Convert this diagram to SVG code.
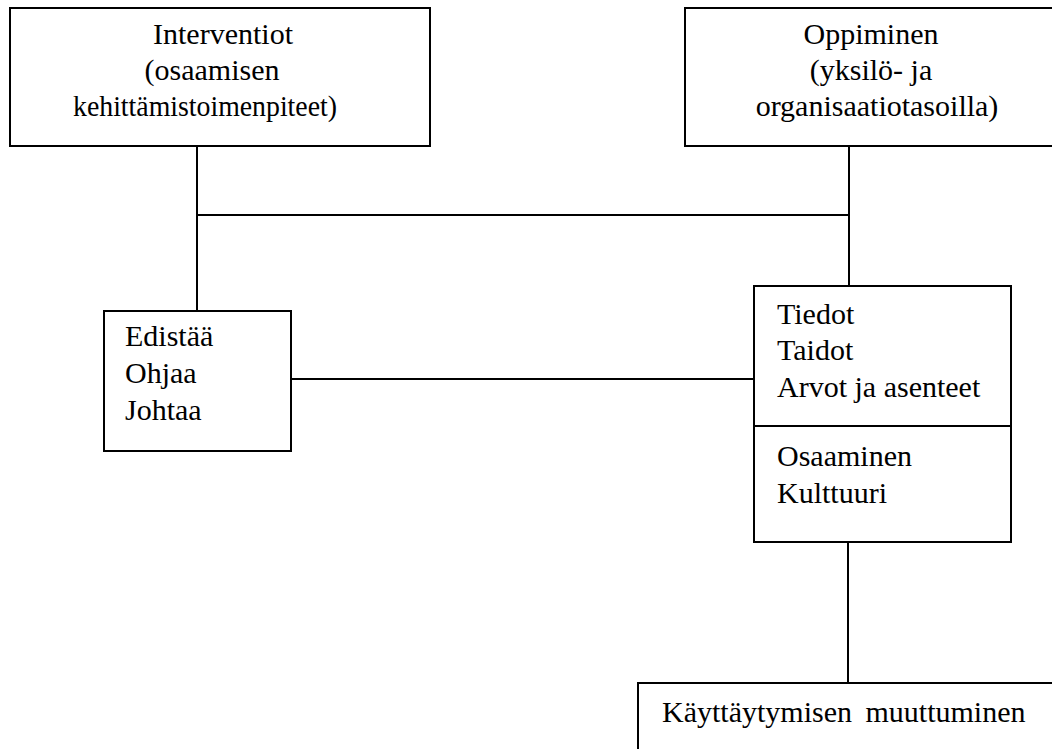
<svg xmlns="http://www.w3.org/2000/svg" width="1052" height="749" viewBox="0 0 1052 749">
<style>
.box{fill:#fff;stroke:#000;stroke-width:2}
.ln{fill:none;stroke:#000;stroke-width:2}
text{font-family:"Liberation Serif","Times New Roman",serif;font-size:30px;fill:#000}
.c{text-anchor:middle}
</style>
<rect width="1052" height="749" fill="#fff"/>
<g id="connectors">
<path class="ln" d="M197 146V311"/>
<path class="ln" d="M849 146V286"/>
<path class="ln" d="M197 215H849"/>
<path class="ln" d="M291 379H754"/>
<path class="ln" d="M848 542V683"/>
</g>
<g id="interventiot">
<rect class="box" x="10" y="8" width="420" height="138"/>
<text class="c" x="223" y="44">Interventiot</text>
<text class="c" x="212" y="80">(osaamisen</text>
<text class="c" x="205" y="116" textLength="264" lengthAdjust="spacingAndGlyphs">kehittämistoimenpiteet)</text>
</g>
<g id="oppiminen">
<rect class="box" x="685" y="8" width="380" height="138"/>
<text class="c" x="871" y="44">Oppiminen</text>
<text class="c" x="871" y="80">(yksilö- ja</text>
<text class="c" x="877" y="116">organisaatiotasoilla)</text>
</g>
<g id="edistaa">
<rect class="box" x="104" y="311" width="187" height="140"/>
<text x="125" y="346">Edistää</text>
<text x="125" y="383">Ohjaa</text>
<text x="125" y="420">Johtaa</text>
</g>
<g id="tiedot">
<rect class="box" x="754" y="286" width="257" height="256"/>
<path class="ln" d="M754 426H1011"/>
<text x="777" y="324">Tiedot</text>
<text x="777" y="360">Taidot</text>
<text x="777" y="397">Arvot ja asenteet</text>
<text x="777" y="466">Osaaminen</text>
<text x="777" y="503">Kulttuuri</text>
</g>
<g id="kayttaytyminen">
<rect class="box" x="638" y="683" width="430" height="80"/>
<text x="662" y="722" word-spacing="6">Käyttäytymisen muuttuminen</text>
</g>
</svg>
